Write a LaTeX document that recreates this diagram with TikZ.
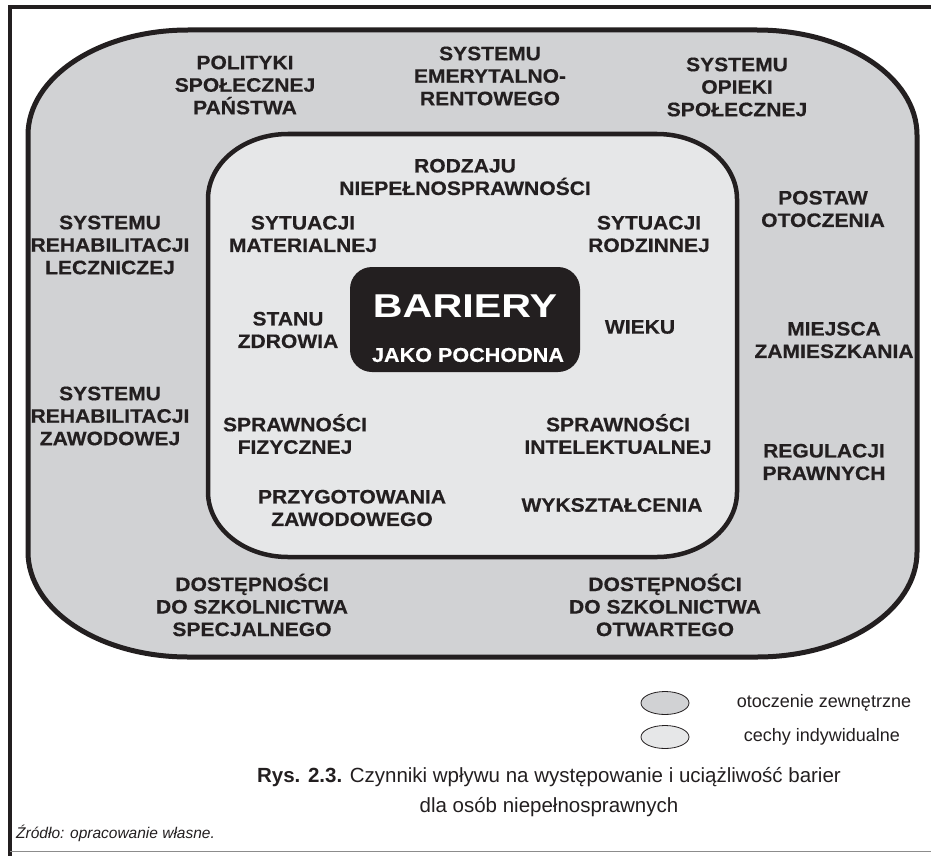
\documentclass[tikz,border=0pt]{standalone}
\usepackage{fontspec}
\setmainfont{Liberation Sans}
\newfontfamily\lblfont[FakeStretch=1.08,FakeBold=0.4]{Liberation Sans}
\newfontfamily\barfont[FakeStretch=1.25]{Liberation Sans}
\usetikzlibrary{shapes.geometric}
\definecolor{ink}{HTML}{231F20}
\definecolor{outerfill}{HTML}{D1D2D4}
\definecolor{innerfill}{HTML}{E6E7E8}

\begin{document}
\begin{tikzpicture}[x=1pt,y=-1pt,
  lbl/.style={align=center,text=ink,inner sep=0pt,
    font=\lblfont\bfseries\fontsize{19.5}{22.5}\selectfont},
  ring/.style={draw=ink,line width=#1},
  legendmark/.style={ellipse,draw=ink,line width=0.8pt,minimum width=48pt,minimum height=23pt,inner sep=0pt},
  legendtext/.style={text=ink,inner sep=0pt,font=\fontsize{18}{20}\selectfont}]
\useasboundingbox (0,0) rectangle (931,856);
\fill[white] (0,0) rectangle (931,856);

% page frame
\draw[ink,line width=3.5pt] (10,856) -- (10,7) -- (931,7);
\draw[black!45,line width=1pt] (10,851) -- (931,851);

% outer ring: environment factors
\filldraw[fill=outerfill,ring=5pt]
  (28,135) arc[start angle=180,end angle=90,x radius=160pt,y radius=105pt]
  -- (757,30) arc[start angle=90,end angle=0,x radius=160pt,y radius=105pt]
  -- (917,552) arc[start angle=0,end angle=-90,x radius=160pt,y radius=105pt]
  -- (188,657) arc[start angle=-90,end angle=-180,x radius=160pt,y radius=105pt]
  -- cycle;

% inner ring: individual features
\filldraw[fill=innerfill,ring=4.5pt]
  (208,199) arc[start angle=180,end angle=90,x radius=80pt,y radius=65pt]
  -- (657,134) arc[start angle=90,end angle=0,x radius=80pt,y radius=65pt]
  -- (737,492) arc[start angle=0,end angle=-90,x radius=80pt,y radius=65pt]
  -- (288,557) arc[start angle=-90,end angle=-180,x radius=80pt,y radius=65pt]
  -- cycle;

% core box
\node[fill=ink,rounded corners=22pt,minimum width=230pt,minimum height=105pt,inner sep=0pt]
  (core) at (465,319.5) {};
\node[text=white,inner sep=0pt,font=\barfont\bfseries\fontsize{33}{33}\selectfont]
  (bariery) at (465,306) {BARIERY};
\node[lbl,text=white,font=\lblfont\bfseries\fontsize{20}{22}\selectfont] (pochodna) at (468,355) {JAKO POCHODNA};

% outer ring labels
\node[lbl] (polityki) at (245,85) {POLITYKI\\SPOŁECZNEJ\\PAŃSTWA};
\node[lbl] (emeryt) at (490,76) {SYSTEMU\\EMERYTALNO-\\RENTOWEGO};
\node[lbl] (opieki) at (737,87) {SYSTEMU\\OPIEKI\\SPOŁECZNEJ};
\node[lbl] (postaw) at (823,209) {POSTAW\\OTOCZENIA};
\node[lbl] (miejsca) at (834,340) {MIEJSCA\\ZAMIESZKANIA};
\node[lbl] (regul) at (824,462) {REGULACJI\\PRAWNYCH};
\node[lbl] (otwarte) at (665,605) {DOSTĘPNOŚCI\\DO SZKOLNICTWA\\OTWARTEGO};
\node[lbl] (specjalne) at (252,605) {DOSTĘPNOŚCI\\DO SZKOLNICTWA\\SPECJALNEGO};
\node[lbl] (zawodowa) at (110,416) {SYSTEMU\\REHABILITACJI\\ZAWODOWEJ};
\node[lbl] (lecznicza) at (110,245) {SYSTEMU\\REHABILITACJI\\LECZNICZEJ};

% inner ring labels
\node[lbl] (rodzaj) at (465,177) {RODZAJU\\NIEPEŁNOSPRAWNOŚCI};
\node[lbl] (material) at (303,234) {SYTUACJI\\MATERIALNEJ};
\node[lbl] (rodzina) at (649,234) {SYTUACJI\\RODZINNEJ};
\node[lbl] (zdrowie) at (288,330) {STANU\\ZDROWIA};
\node[lbl] (wiek) at (640,327) {WIEKU};
\node[lbl] (fizyczna) at (295,434) {SPRAWNOŚCI\\FIZYCZNEJ};
\node[lbl] (intelekt) at (618,434) {SPRAWNOŚCI\\INTELEKTUALNEJ};
\node[lbl] (przygot) at (352,508) {PRZYGOTOWANIA\\ZAWODOWEGO};
\node[lbl] (wyksz) at (612,505) {WYKSZTAŁCENIA};

% legend
\node[legendmark,fill=outerfill] (lgouter) at (665,703) {};
\node[legendmark,fill=innerfill] (lginner) at (665,737) {};
\node[legendtext] (lgoutertxt) at (824,703) {otoczenie zewnętrzne};
\node[legendtext] (lginnertxt) at (822,737) {cechy indywidualne};

% caption and source
\node[align=center,text=ink,inner sep=0pt,font=\fontsize{20.5}{30}\selectfont]
  (caption) at (549,792) {\textbf{Rys. 2.3.} Czynniki wpływu na występowanie i uciążliwość barier\\dla osób niepełnosprawnych};
\node[anchor=west,text=ink,inner sep=0pt,font=\itshape\fontsize{15.5}{18}\selectfont]
  (source) at (16,833) {Źródło: opracowanie własne.};
\end{tikzpicture}
\end{document}
